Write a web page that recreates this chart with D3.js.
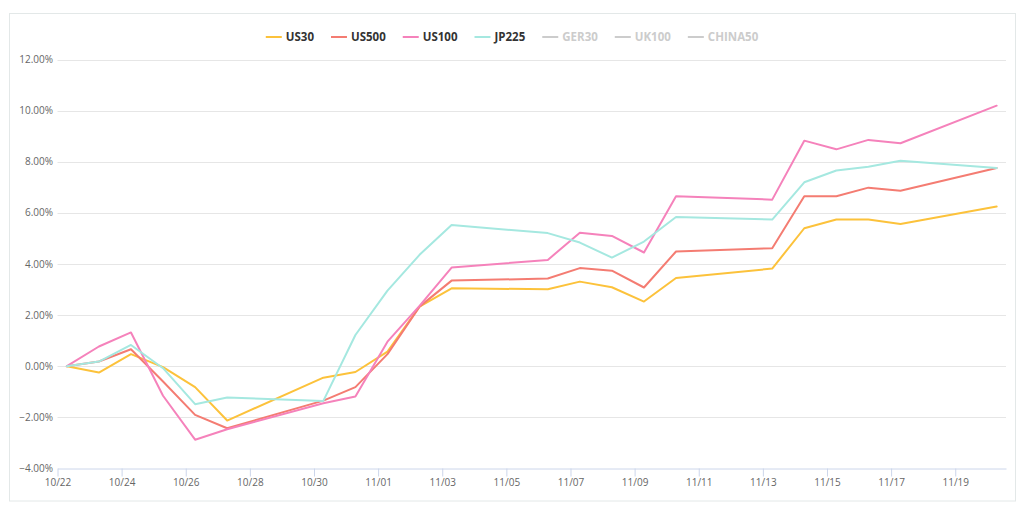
<!DOCTYPE html>
<html><head><meta charset="utf-8">
<script src="https://cdn.jsdelivr.net/npm/d3@7"></script>
<style>
html,body{margin:0;padding:0;background:#fff;}
svg{display:block;font-family:"Open Sans","Noto Sans",sans-serif;}
</style></head>
<body><svg id="chart" width="1024" height="510"></svg>
<script>
const dates = ["2023-10-22T07:00","2023-10-23T07:00","2023-10-24T07:00","2023-10-25T07:00","2023-10-26T07:00","2023-10-27T07:00",
  "2023-10-30T07:00","2023-10-31T07:00","2023-11-01T07:00","2023-11-02T07:00","2023-11-03T07:00",
  "2023-11-06T07:00","2023-11-07T07:00","2023-11-08T07:00","2023-11-09T07:00","2023-11-10T07:00",
  "2023-11-13T07:00","2023-11-14T07:00","2023-11-15T07:00","2023-11-16T07:00","2023-11-17T07:00","2023-11-20T07:00"];
const us30  = [0,-0.25,0.47,-0.04,-0.82,-2.13,-0.45,-0.23,0.57,2.33,3.05,3.01,3.31,3.09,2.53,3.45,3.82,5.40,5.74,5.74,5.57,6.25];
const us500 = [0,0.18,0.66,-0.6,-1.91,-2.43,-1.35,-0.82,0.47,2.33,3.35,3.43,3.84,3.74,3.08,4.49,4.62,6.65,6.65,6.99,6.87,7.76];
const us100 = [0,0.77,1.32,-1.16,-2.88,-2.47,-1.45,-1.19,0.96,2.36,3.86,4.16,5.22,5.10,4.45,6.65,6.52,8.83,8.49,8.86,8.73,10.2];
const jp225 = [0,0.18,0.83,-0.08,-1.49,-1.23,-1.36,1.22,2.96,4.36,5.53,5.21,4.84,4.25,4.88,5.84,5.74,7.20,7.66,7.81,8.04,7.76];
const seriesNames = ["US30","US500","US100","JP225","GER30","UK100","CHINA50"];
const seriesColors = ["#fcc23b","#f47c72","#f582bb","#a5e8e0","#cccccc","#cccccc","#cccccc"];
const seriesVisible = [true,true,true,true,false,false,false];
const seriesValues = [us30,us500,us100,jp225,[],[],[]];
const yTicks = [-4,-2,0,2,4,6,8,10,12];
const xTickLabels = ["10/22","10/24","10/26","10/28","10/30","11/01","11/03","11/05","11/07","11/09","11/11","11/13","11/15","11/17","11/19"];
const xDomain = ["2023-10-22T00:00","2023-11-20T14:00"];

(function(){
const svg = d3.select("#chart");
const parse = s => new Date(s + ":00Z");
const pL = 57.5, pR = 1006, pT = 59.7, pB = 468.3;

svg.append("rect").attr("x",9.5).attr("y",13.5).attr("width",1006).attr("height",487.5)
  .attr("fill","none").attr("stroke","#e3e8e8").attr("stroke-width",1);

const x = d3.scaleUtc().domain(xDomain.map(parse)).range([pL,pR]);
const y = d3.scaleLinear().domain([-4,12]).range([pB,pT]);

const grid = svg.append("g");
grid.selectAll("line").data(yTicks.filter(t=>t!==-4)).join("line")
  .attr("x1",pL).attr("x2",pR)
  .attr("y1",d=>Math.round(y(d))+0.5).attr("y2",d=>Math.round(y(d))+0.5)
  .attr("stroke","#e6e6e6").attr("stroke-width",1);

svg.append("g").selectAll("text").data(yTicks).join("text")
  .attr("x",53).attr("y",d=>y(d)+3.5).attr("text-anchor","end")
  .attr("font-size",10).attr("fill","#666")
  .text(d=>d3.format(".2f")(d)+"%");

const fmt = d3.utcFormat("%m/%d");
const tickDates = xTickLabels.map(l => parse("2023-" + l.replace("/","-") + "T00:00"));
const xAxis = d3.axisBottom(x).tickValues(tickDates).tickFormat(fmt).tickSize(8).tickSizeOuter(0);
const gx = svg.append("g").attr("transform",`translate(0,${Math.round(pB)+0.5})`).call(xAxis);
gx.select(".domain").attr("stroke","#ccd6eb");
gx.selectAll(".tick line").attr("stroke","#ccd6eb");
gx.selectAll(".tick text").attr("fill","#666").attr("font-size",10).attr("font-family","\"Open Sans\",\"Noto Sans\",sans-serif").attr("dy","0.71em").attr("y",10);

const line = d3.line().x((d,i)=>x(parse(dates[i]))).y(d=>y(d));
const lg = svg.append("g");
seriesNames.forEach((n,k)=>{
  if(!seriesVisible[k]) return;
  lg.append("path").datum(seriesValues[k]).attr("d",line)
    .attr("fill","none").attr("stroke",seriesColors[k]).attr("stroke-width",2)
    .attr("stroke-linejoin","round").attr("stroke-linecap","round");
});

const legend = svg.append("g");
const items = [];
let cx = 0;
seriesNames.forEach((n,k)=>{
  const g = legend.append("g");
  g.append("line").attr("x1",0).attr("x2",16).attr("y1",0).attr("y2",0)
    .attr("stroke",seriesColors[k]).attr("stroke-width",2);
  const t = g.append("text").attr("x",20).attr("y",4).attr("font-size",11.5).attr("font-weight","bold")
    .attr("fill",seriesVisible[k]?"#333":"#cccccc").text(n);
  const w = 20 + t.node().getComputedTextLength();
  items.push({g,x:cx});
  cx += w + 17;
});
const total = cx - 17;
const start = 512 - total/2;
items.forEach(it=>it.g.attr("transform",`translate(${start+it.x},37)`));
})();
</script></body></html>
